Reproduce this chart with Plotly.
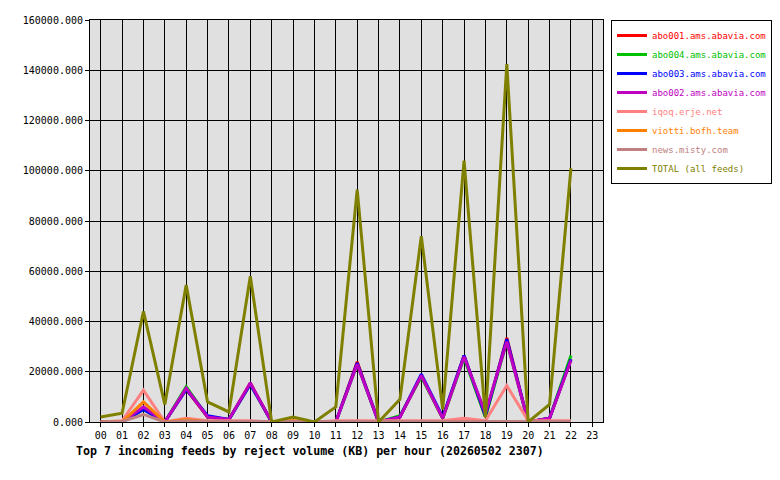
import plotly.graph_objects as go

hours = [f"{h:02d}" for h in range(24)]
shown = hours[:23]

abo001 = [0, 0, 5500, 0, 13000, 2000, 1000, 15500, 0, 0, 0, 0, 24000, 0, 2000, 18500, 1500, 26500, 2000, 33500, 0, 1500, 25000]
abo004 = [0, 0, 5000, 0, 14000, 2000, 1000, 15000, 0, 0, 0, 0, 23000, 0, 2500, 18000, 1500, 25500, 2000, 32000, 0, 1500, 26500]
abo003 = [0, 0, 5000, 0, 13000, 2500, 1000, 15000, 0, 0, 0, 0, 23500, 0, 2000, 19000, 2000, 26500, 2500, 33000, 0, 1500, 25000]
abo002 = [0, 0, 6000, 0, 13500, 2000, 1000, 15500, 0, 0, 0, 0, 23000, 0, 2000, 18500, 1500, 26000, 3500, 32000, 0, 1500, 24500]
iqoq = [0, 500, 12700, 0, 1500, 500, 500, 500, 0, 500, 0, 500, 500, 500, 500, 500, 500, 1500, 500, 14500, 500, 500, 500]
viotti = [0, 0, 8000, 0, 1000, 0, 0, 0, 0, 500, 0, 0, 0, 0, 0, 0, 0, 0, 0, 0, 0, 0, 0]
misty = [0, 200, 3000, 0, 500, 200, 200, 200, 0, 200, 0, 200, 200, 200, 200, 200, 200, 200, 200, 200, 200, 200, 200]
total = [2000, 3500, 44000, 7000, 54500, 8000, 4000, 58000, 0, 2000, 0, 6000, 92500, 0, 9000, 74000, 5000, 104000, 2000, 142500, 0, 7000, 101000]

series = [
    ("abo001.ams.abavia.com", abo001, "#ff0000"),
    ("abo004.ams.abavia.com", abo004, "#00c000"),
    ("abo003.ams.abavia.com", abo003, "#0000ff"),
    ("abo002.ams.abavia.com", abo002, "#c000c0"),
    ("iqoq.erje.net", iqoq, "#ff8080"),
    ("viotti.bofh.team", viotti, "#ff8000"),
    ("news.misty.com", misty, "#c08080"),
    ("TOTAL (all feeds)", total, "#808000"),
]

fig = go.Figure()
for name, vals, col in series:
    fig.add_trace(go.Scatter(
        x=shown, y=vals, name=f"<span style='color:{col}'>{name}</span>", mode="lines",
        line=dict(color=col, width=3),
    ))

# page body has an 8px margin, so positions are shifted up/left by 8
fig.update_layout(
    width=780, height=480,
    margin=dict(l=82, r=185, t=12, b=66, autoexpand=False),
    paper_bgcolor="white", plot_bgcolor="#e0e0e0",
    font=dict(family="DejaVu Sans Mono", size=10, color="black"),
    legend=dict(xref="container", yref="container", x=603 / 780, y=1 - 12 / 480,
                xanchor="left", yanchor="top",
                bordercolor="black", borderwidth=1, bgcolor="white",
                font=dict(size=9), tracegroupgap=0, itemwidth=30),
    title=dict(text="<b>Top 7 incoming feeds by reject volume (KB) per hour (20260502 2307)</b>",
               x=68 / 780, xanchor="left", y=1 - 443 / 480, yanchor="middle",
               font=dict(size=11.6)),
    xaxis=dict(type="category", categoryorder="array", categoryarray=hours,
               range=[-0.5, 23.5], showgrid=True, gridcolor="black", gridwidth=1,
               ticks="outside", ticklen=4, tickcolor="black", automargin=False,
               showline=True, linecolor="black", mirror=True),
    yaxis=dict(range=[0, 160000], dtick=20000, tickformat=".3f", automargin=False,
               showgrid=True, gridcolor="black", gridwidth=1,
               ticks="outside", ticklen=4, tickcolor="black",
               showline=True, linecolor="black", mirror=True, zeroline=False),
)

fig.write_html("out.html")
